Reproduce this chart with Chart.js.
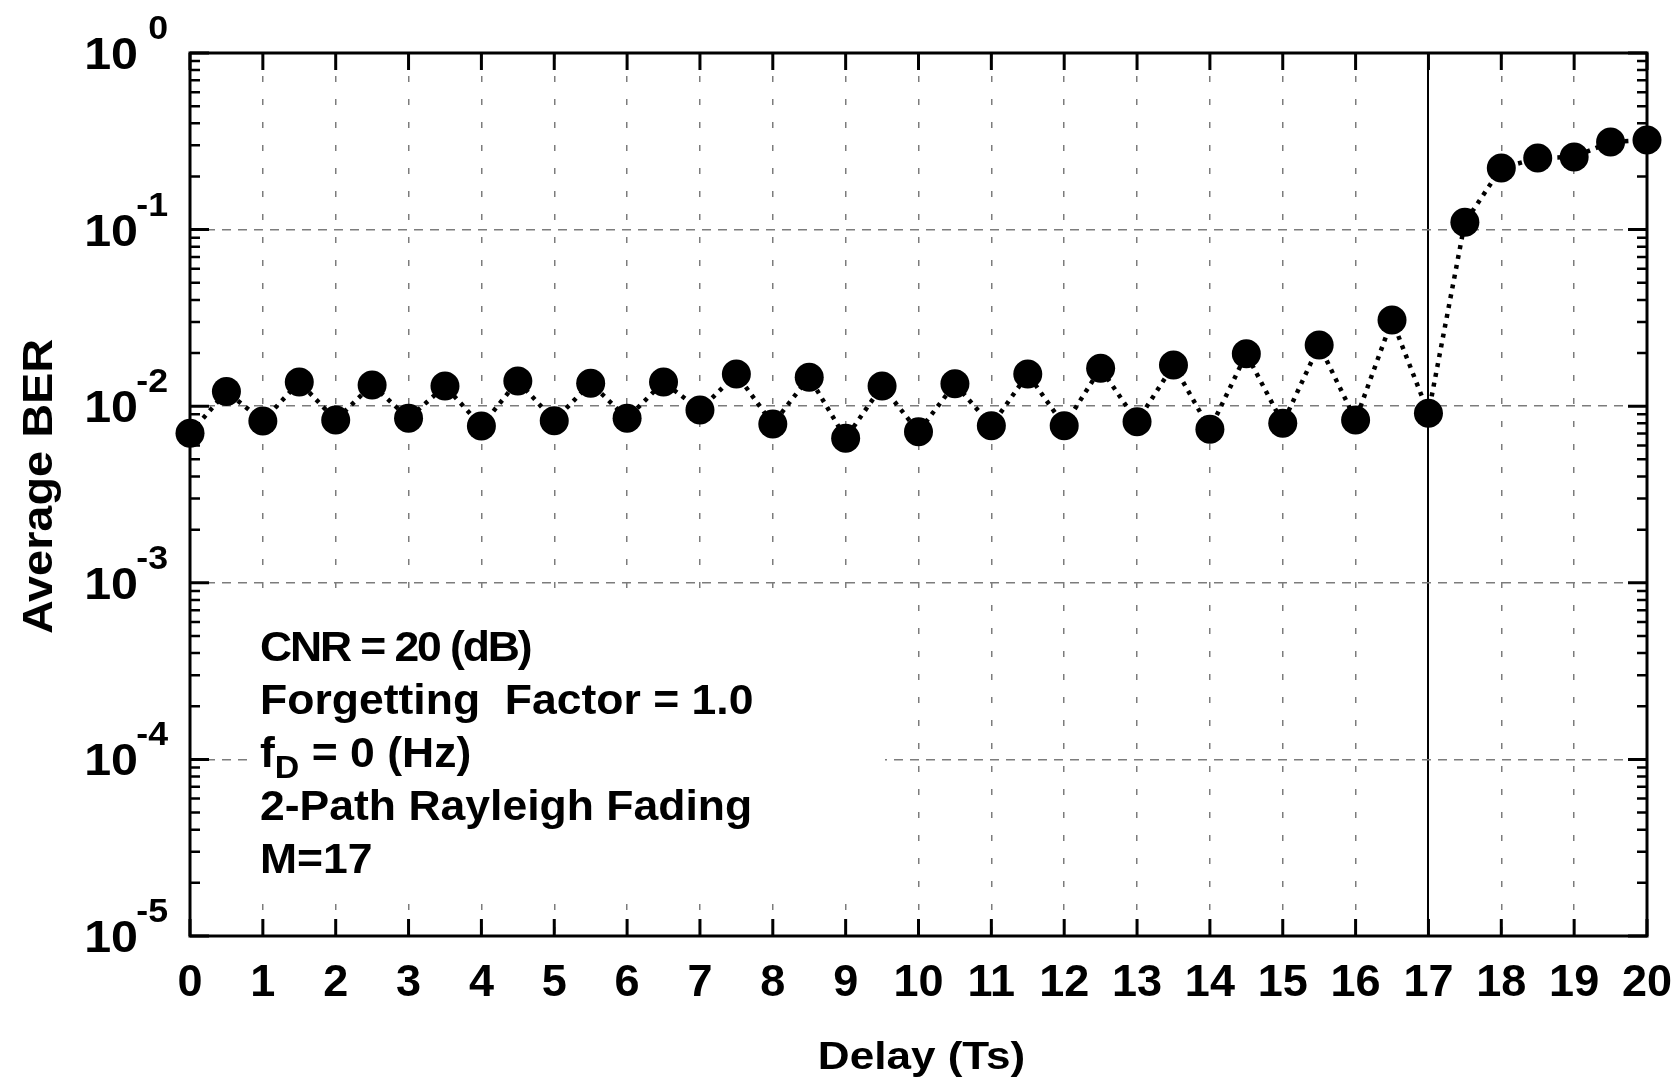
<!DOCTYPE html>
<html>
<head>
<meta charset="utf-8">
<title>Average BER vs Delay</title>
<script src="https://cdn.jsdelivr.net/npm/chart.js@4/dist/chart.umd.min.js"></script>
<style>
  html, body { margin: 0; padding: 0; background: #ffffff; }
  #wrap { width: 1677px; height: 1080px; }
</style>
</head>
<body>
<div id="wrap"><canvas id="berChart" width="1677" height="1080"></canvas></div>
<script>
// ---- data ----
const delays = [0, 0.5, 1, 1.5, 2, 2.5, 3, 3.5, 4, 4.5, 5, 5.5, 6, 6.5, 7, 7.5, 8, 8.5, 9, 9.5,
                10, 10.5, 11, 11.5, 12, 12.5, 13, 13.5, 14, 14.5, 15, 15.5, 16, 16.5, 17, 17.5,
                18, 18.5, 19, 19.5, 20];
const averageBER = [0.00702, 0.0121, 0.00824, 0.0137, 0.00835, 0.0132, 0.00854, 0.0130, 0.00773, 0.0139,
                    0.00828, 0.0135, 0.00854, 0.0137, 0.00952, 0.0152, 0.00793, 0.0146, 0.00658, 0.0130,
                    0.00717, 0.0134, 0.00776, 0.0152, 0.00776, 0.0164, 0.00817, 0.0171, 0.00740, 0.0198,
                    0.00800, 0.0222, 0.00835, 0.0308, 0.00912, 0.110, 0.223, 0.254, 0.258, 0.313, 0.322];
const xTickValues = [0, 1, 2, 3, 4, 5, 6, 7, 8, 9, 10, 11, 12, 13, 14, 15, 16, 17, 18, 19, 20];
const xTickLabels = ['0', '1', '2', '3', '4', '5', '6', '7', '8', '9', '10', '11', '12', '13', '14',
                     '15', '16', '17', '18', '19', '20'];
const yDecadeExponents = [0, -1, -2, -3, -4, -5];
const yTickBase = '10';
const yTickExponents = ['0', '-1', '-2', '-3', '-4', '-5'];
const xAxisTitle = 'Delay (Ts)';
const yAxisTitle = 'Average BER';
const markerDelay = 17;   // M = 17
// Each note line is a list of [text, kind] runs; kind 'sub' is a subscript.
const noteLines = [
  [['CNR = 20 (dB)', '']],
  [['Forgetting  Factor = 1.0', '']],
  [['f', ''], ['D', 'sub'], [' = 0 (Hz)', '']],
  [['2-Path Rayleigh Fading', '']],
  [['M=17', '']]
];
const noteLetterSpacing = [-2, 0, 0, 0, 0];

// ---- styling ----
const FAMILY = '"Liberation Sans", Arial, Helvetica, sans-serif';
const GRID_GREY = '#7c7c7c';

function stretchText(ctx, str, x, y, size, sx, align, spacing) {
  ctx.save();
  ctx.font = 'bold ' + size + 'px ' + FAMILY;
  if (spacing && 'letterSpacing' in ctx) ctx.letterSpacing = spacing + 'px';
  ctx.textAlign = align;
  ctx.textBaseline = 'alphabetic';
  ctx.translate(x, y);
  ctx.scale(sx, 1);
  ctx.fillText(str, 0, 0);
  ctx.restore();
}

function textWidth(ctx, str, size, sx, spacing) {
  ctx.save();
  ctx.font = 'bold ' + size + 'px ' + FAMILY;
  if (spacing && 'letterSpacing' in ctx) ctx.letterSpacing = spacing + 'px';
  const w = ctx.measureText(str).width * sx;
  ctx.restore();
  return w;
}

// Frame, inward ticks, tick labels, axis titles and the parameter note.
const decorations = {
  id: 'decorations',
  beforeDatasetsDraw(chart) {
    const ctx = chart.ctx;
    const a = chart.chartArea;
    const xs = chart.scales.x;
    const ys = chart.scales.y;
    ctx.save();

    // white panel behind the parameter note
    ctx.fillStyle = '#ffffff';
    ctx.fillRect(250, 594, 635, 310);

    // plot frame
    ctx.strokeStyle = '#000000';
    ctx.lineWidth = 3;
    ctx.strokeRect(a.left, a.top, a.right - a.left, a.bottom - a.top);

    // x ticks, top and bottom, pointing inward
    ctx.lineWidth = 3;
    ctx.beginPath();
    xTickValues.forEach(v => {
      const px = xs.getPixelForValue(v);
      ctx.moveTo(px, a.bottom); ctx.lineTo(px, a.bottom - 17);
      ctx.moveTo(px, a.top); ctx.lineTo(px, a.top + 17);
    });
    ctx.stroke();

    // y ticks: decades and 2..9 minors, left and right
    yDecadeExponents.forEach(e => {
      const py = ys.getPixelForValue(Math.pow(10, e));
      ctx.lineWidth = 3;
      ctx.beginPath();
      ctx.moveTo(a.left, py); ctx.lineTo(a.left + 19, py);
      ctx.moveTo(a.right, py); ctx.lineTo(a.right - 19, py);
      ctx.stroke();
      if (e > -5) {
        ctx.lineWidth = 2.5;
        ctx.beginPath();
        for (let m = 2; m <= 9; m++) {
          const my = ys.getPixelForValue(m * Math.pow(10, e - 1));
          ctx.moveTo(a.left, my); ctx.lineTo(a.left + 10, my);
          ctx.moveTo(a.right, my); ctx.lineTo(a.right - 10, my);
        }
        ctx.stroke();
      }
    });

    ctx.fillStyle = '#000000';

    // y tick labels 10^n
    yDecadeExponents.forEach((e, i) => {
      const py = ys.getPixelForValue(Math.pow(10, e));
      stretchText(ctx, yTickBase, 138, py + 16, 44, 1.1, 'right');
      stretchText(ctx, yTickExponents[i], 168, py - 14, 34, 1.05, 'right');
    });

    // x tick labels
    xTickValues.forEach((v, i) => {
      const px = xs.getPixelForValue(v);
      stretchText(ctx, xTickLabels[i], px, 996, 45, 1.0, 'center');
    });

    // axis titles
    stretchText(ctx, xAxisTitle, (a.left + a.right) / 2 + 3, 1069, 39, 1.13, 'center');
    ctx.save();
    ctx.translate(52, (a.top + a.bottom) / 2 - 8);
    ctx.rotate(-Math.PI / 2);
    stretchText(ctx, yAxisTitle, 0, 0, 43, 1.09, 'center');
    ctx.restore();

    // parameter note
    const noteX = 260, noteTop = 661, noteStep = 53, noteSize = 42, noteSx = 1.06;
    noteLines.forEach((runs, li) => {
      let x = noteX;
      const base = noteTop + li * noteStep;
      const sp = noteLetterSpacing[li];
      runs.forEach(([str, kind]) => {
        const size = kind === 'sub' ? 32 : noteSize;
        const y = kind === 'sub' ? base + 11 : base;
        stretchText(ctx, str, x, y, size, noteSx, 'left', sp);
        x += textWidth(ctx, str, size, noteSx, sp);
      });
    });

    ctx.restore();
  }
};

const points = delays.map((d, i) => ({ x: d, y: averageBER[i] }));

new Chart(document.getElementById('berChart'), {
  type: 'line',
  data: {
    datasets: [{
      data: points,
      borderColor: '#000000',
      borderWidth: 4.5,
      borderDash: [4, 6],
      borderCapStyle: 'butt',
      pointRadius: 14.5,
      pointHoverRadius: 14.5,
      pointBackgroundColor: '#000000',
      pointBorderWidth: 0,
      tension: 0,
      fill: false,
      clip: false
    }]
  },
  options: {
    responsive: false,
    animation: false,
    events: [],
    layout: { padding: { left: 190, top: 53, right: 30, bottom: 144 } },
    plugins: { legend: { display: false }, tooltip: { enabled: false } },
    scales: {
      x: {
        type: 'linear',
        min: 0,
        max: 20,
        afterBuildTicks: s => { s.ticks = xTickValues.map(v => ({ value: v })); },
        ticks: { display: false },
        grid: {
          drawTicks: false,
          color: c => (c.tick && c.tick.value === markerDelay ? '#000000' : GRID_GREY),
          lineWidth: c => (c.tick && c.tick.value === markerDelay ? 2 : 1.5)
        },
        border: {
          display: false,
          dash: c => (c.tick && c.tick.value === markerDelay ? [] : [6, 17])
        }
      },
      y: {
        type: 'logarithmic',
        min: 1e-5,
        max: 1,
        afterBuildTicks: s => { s.ticks = yDecadeExponents.map(e => ({ value: Math.pow(10, e) })); },
        ticks: { display: false },
        grid: { drawTicks: false, color: GRID_GREY, lineWidth: 1.5 },
        border: { display: false, dash: [9, 7] }
      }
    }
  },
  plugins: [decorations]
});
</script>
</body>
</html>
